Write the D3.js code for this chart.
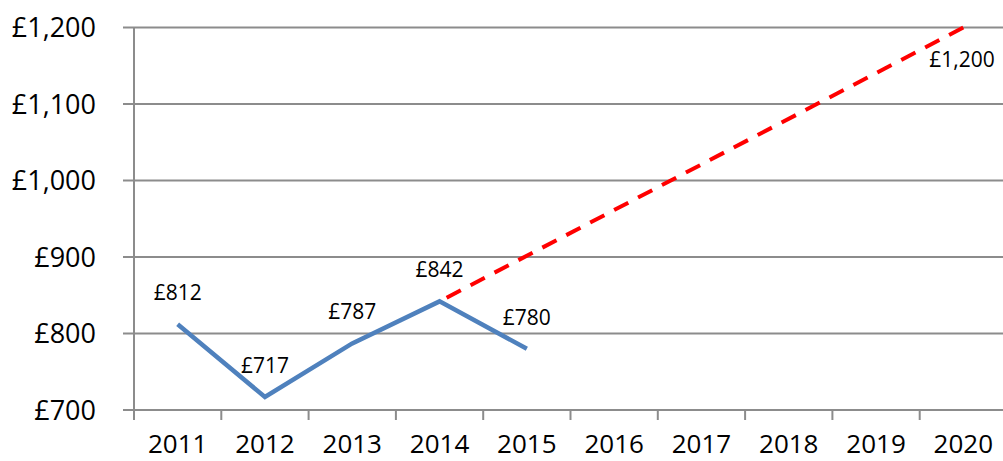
<!DOCTYPE html>
<html>
  <head>
  <title>Projection chart</title>
  <script src="https://cdn.jsdelivr.net/npm/d3@7/dist/d3.min.js"></script>
  <style type="text/css">
    body { margin: 0; background: #fff; }
    text { font-family: "Open Sans", sans-serif; fill: #000; }
  </style>
  </head>
  <body>
  </body>
  <script type="text/javascript">

    // data
    var years = ["2011","2012","2013","2014","2015","2016","2017","2018","2019","2020"];
    var actualYears = ["2011","2012","2013","2014","2015"];
    var actualValues = [812, 717, 787, 842, 780];
    var projYears = ["2014","2020"];
    var projValues = [842, 1200];
    var yTicks = [700, 800, 900, 1000, 1100, 1200];

    var w = 1003;
    var h = 461;

    var svg = d3.select("body")
      .append("svg")
      .attr("width", w)
      .attr("height", h);

    var x = d3.scaleBand()
      .domain(years)
      .range([134, 1007])
      .padding(0);

    var y = d3.scaleLinear()
      .domain([700, 1200])
      .range([410, 27.5]);

    function cx(d) { return x(d) + x.bandwidth() / 2; }
    var fmt = function(v) { return "£" + d3.format(",")(v); };

    // gridlines + y labels
    svg.selectAll("line.grid")
      .data(yTicks)
      .enter()
      .append("line")
      .attr("class", "grid")
      .attr("x1", 123)
      .attr("x2", w + 10)
      .attr("y1", function(d) { return y(d); })
      .attr("y2", function(d) { return y(d); })
      .attr("stroke", "#8c8c8c")
      .attr("stroke-width", 2);

    svg.selectAll("text.ylab")
      .data(yTicks)
      .enter()
      .append("text")
      .attr("class", "ylab")
      .attr("x", 96)
      .attr("y", function(d) { return y(d); })
      .attr("dy", "0.36em")
      .attr("text-anchor", "end")
      .style("font-size", "27px")
      .text(fmt);

    // y axis line
    svg.append("line")
      .attr("x1", 134).attr("x2", 134)
      .attr("y1", y(1200)).attr("y2", 420)
      .attr("stroke", "#8c8c8c")
      .attr("stroke-width", 2);

    // x ticks at band edges
    svg.selectAll("line.xtick")
      .data(years.slice(1))
      .enter()
      .append("line")
      .attr("class", "xtick")
      .attr("x1", function(d) { return x(d); })
      .attr("x2", function(d) { return x(d); })
      .attr("y1", y(700))
      .attr("y2", 420)
      .attr("stroke", "#8c8c8c")
      .attr("stroke-width", 2);

    svg.selectAll("text.xlab")
      .data(years)
      .enter()
      .append("text")
      .attr("class", "xlab")
      .attr("x", cx)
      .attr("y", 453)
      .attr("text-anchor", "middle")
      .style("font-size", "26px")
      .text(function(d) { return d; });

    var line = d3.line()
      .x(function(d) { return cx(d[0]); })
      .y(function(d) { return y(d[1]); });

    // projection (dashed)
    svg.append("path")
      .datum(d3.zip(projYears, projValues))
      .attr("d", line)
      .attr("fill", "none")
      .attr("stroke", "#ff0000")
      .attr("stroke-width", 4)
      .attr("stroke-dasharray", "16,11")
      .attr("stroke-dashoffset", -8);

    // actual
    svg.append("path")
      .datum(d3.zip(actualYears, actualValues))
      .attr("d", line)
      .attr("fill", "none")
      .attr("stroke", "#4f81bd")
      .attr("stroke-width", 4.5)
      .attr("stroke-linejoin", "miter");

    // data labels
    svg.selectAll("text.dlab")
      .data(d3.zip(actualYears, actualValues))
      .enter()
      .append("text")
      .attr("class", "dlab")
      .attr("x", function(d) { return cx(d[0]); })
      .attr("y", function(d) { return y(d[1]) - 24; })
      .attr("text-anchor", "middle")
      .style("font-size", "21px")
      .text(function(d) { return fmt(d[1]); });

    svg.append("text")
      .attr("class", "dlab")
      .attr("x", cx(projYears[1]) - 34)
      .attr("y", y(projValues[1]) + 39)
      .style("font-size", "21px")
      .text(fmt(projValues[1]));

  </script>
</html>
